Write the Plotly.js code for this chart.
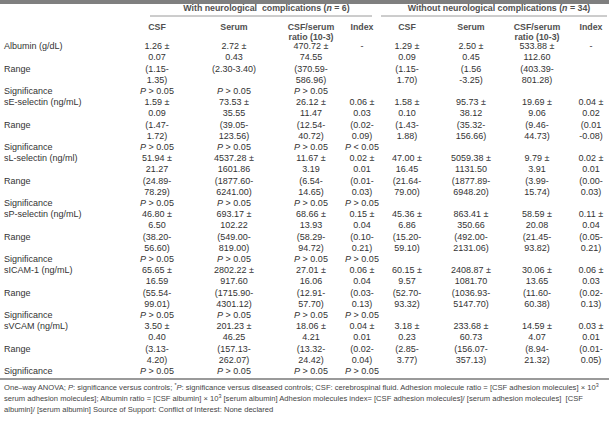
<!DOCTYPE html>
<html>
<head>
<meta charset="utf-8">
<script src="https://cdn.plot.ly/plotly-3.0.1.min.js"></script>
<style>html,body{margin:0;padding:0;background:#fff;}#chart{width:609px;height:431px;}</style>
</head>
<body>
<div id="chart"></div>
<script>
// ---------- DATA ----------
const rowLabels = ['Albumin (g/dL)', 'sE-selectin (ng/mL)', 'sL-selectin (ng/ml)', 'sP-selectin (ng/mL)', 'sICAM-1 (ng/mL)', 'sVCAM (ng/mL)'];
const subLabels = ['Range', 'Significance'];
const groupLabels = ['With neurological&nbsp; complications (<i>n</i> = 6)', 'Without neurological complications (<i>n</i> = 34)'];
const columnLabels = ['CSF', 'Serum', 'CSF/serum<br>ratio (10-3)', 'Index', 'CSF', 'Serum', 'CSF/serum<br>ratio (10-3)', 'Index'];

// With neurological complications
const withCsfMean = [1.26, 1.59, 51.94, 46.80, 65.65, 3.50];
const withCsfSd = [0.07, 0.09, 21.27, 6.50, 16.59, 0.40];
const withCsfRange = ['(1.15-\n1.35)', '(1.47-\n1.72)', '(24.89-\n78.29)', '(38.20-\n56.60)', '(55.54-\n99.01)', '(3.13-\n4.20)'];
const withCsfP = ['>', '>', '>', '>', '>', '>'];

const withSerumMean = [2.72, 73.53, 4537.28, 693.17, 2802.22, 201.23];
const withSerumSd = [0.43, 35.55, 1601.86, 102.22, 917.60, 46.25];
const withSerumRange = ['(2.30-3.40)', '(39.05-\n123.56)', '(1877.60-\n6241.00)', '(549.00-\n819.00)', '(1715.90-\n4301.12)', '(157.13-\n262.07)'];
const withSerumP = ['>', '>', '>', '>', '>', '>'];

const withRatioMean = [470.72, 26.12, 11.67, 68.66, 27.01, 18.06];
const withRatioSd = [74.55, 11.47, 3.19, 13.93, 16.06, 4.21];
const withRatioRange = ['(370.59-\n586.96)', '(12.54-\n40.72)', '(6.54-\n14.65)', '(58.29-\n94.72)', '(12.91-\n57.70)', '(13.32-\n24.42)'];
const withRatioP = ['>', '>', '>', '>', '>', '>'];

const withIndexMean = [null, 0.06, 0.02, 0.15, 0.06, 0.04];
const withIndexSd = [null, 0.03, 0.01, 0.04, 0.04, 0.01];
const withIndexRange = [null, '(0.02-\n0.09)', '(0.01-\n0.03)', '(0.10-\n0.21)', '(0.03-\n0.13)', '(0.02-\n0.04)'];
const withIndexP = [null, '<', '>', '>', '>', '>'];

// Without neurological complications
const woCsfMean = [1.29, 1.58, 47.00, 45.36, 60.15, 3.18];
const woCsfSd = [0.09, 0.10, 16.45, 6.86, 9.57, 0.23];
const woCsfRange = ['(1.15-\n1.70)', '(1.43-\n1.88)', '(21.64-\n79.00)', '(15.20-\n59.10)', '(52.70-\n93.32)', '(2.85-\n3.77)'];

const woSerumMean = [2.50, 95.73, 5059.38, 863.41, 2408.87, 233.68];
const woSerumSd = [0.45, 38.12, 1131.50, 350.66, 1081.70, 60.73];
const woSerumRange = ['(1.56\n-3.25)', '(35.32-\n156.66)', '(1877.89-\n6948.20)', '(492.00-\n2131.06)', '(1036.93-\n5147.70)', '(156.07-\n357.13)'];

const woRatioMean = [533.88, 19.69, 9.79, 58.59, 30.06, 14.59];
const woRatioSd = [112.60, 9.06, 3.91, 20.08, 13.65, 4.07];
const woRatioRange = ['(403.39-\n801.28)', '(9.46-\n44.73)', '(3.99-\n15.74)', '(21.45-\n93.82)', '(11.60-\n60.38)', '(8.94-\n21.32)'];

const woIndexMean = [null, 0.04, 0.02, 0.11, 0.06, 0.03];
const woIndexSd = [null, 0.02, 0.01, 0.04, 0.03, 0.01];
const woIndexRange = [null, '(0.01\n-0.08)', '(0.00-\n0.03)', '(0.05-\n0.21)', '(0.02-\n0.13)', '(0.01-\n0.05)'];

const footnoteLines = [
  'One–way ANOVA; <i>P</i>: significance versus controls; <sup>*</sup><i>P</i>: significance versus diseased controls; CSF: cerebrospinal fluid. Adhesion molecule ratio = [CSF adhesion molecules] × 10<sup>3</sup>',
  'serum adhesion molecules]; Albumin ratio = [CSF albumin] × 10<sup>3</sup> [serum albumin] Adhesion molecules index= [CSF adhesion molecules]/ [serum adhesion molecules]&nbsp; [CSF',
  'albumin]/ [serum albumin] Source of Support: Conflict of Interest: None declared'
];

// ---------- LAYOUT CONSTANTS ----------
const W = 609, H = 431;
const LINE = 11.2;          // px per text line
const FIRST = 47;           // px of first body line
const colX = [157, 234, 311, 362, 407, 471, 537, 591];
const labelX = 4;
const TXT = '#333333';
const HEAD = '#505050';
const FONT = 'Liberation Sans, Arial, sans-serif';

const columns = [
  {mean: withCsfMean, sd: withCsfSd, range: withCsfRange, p: withCsfP},
  {mean: withSerumMean, sd: withSerumSd, range: withSerumRange, p: withSerumP},
  {mean: withRatioMean, sd: withRatioSd, range: withRatioRange, p: withRatioP},
  {mean: withIndexMean, sd: withIndexSd, range: withIndexRange, p: withIndexP},
  {mean: woCsfMean, sd: woCsfSd, range: woCsfRange, p: null},
  {mean: woSerumMean, sd: woSerumSd, range: woSerumRange, p: null},
  {mean: woRatioMean, sd: woRatioSd, range: woRatioRange, p: null},
  {mean: woIndexMean, sd: woIndexSd, range: woIndexRange, p: null}
];

const traces = [];
// label column
{
  const xs = [], ys = [], ts = [];
  rowLabels.forEach((lab, i) => {
    const k0 = 5 * i;
    xs.push(labelX, labelX, labelX); ys.push(k0, k0 + 2, k0 + 4);
    ts.push(lab, subLabels[0], subLabels[1]);
  });
  traces.push({type: 'scatter', mode: 'text', x: xs, y: ys, text: ts, textposition: 'middle right',
    textfont: {family: FONT, size: 9, color: TXT}, hoverinfo: 'skip', showlegend: false});
}
// value columns
columns.forEach((col, c) => {
  const xs = [], ys = [], ts = [];
  col.mean.forEach((m, i) => {
    const k0 = 5 * i;
    if (m === null) {
      xs.push(colX[c]); ys.push(k0); ts.push('-');
      return;
    }
    xs.push(colX[c]); ys.push(k0); ts.push(m.toFixed(2) + ' ±');
    xs.push(colX[c]); ys.push(k0 + 1); ts.push(col.sd[i].toFixed(2));
    col.range[i].split('\n').forEach((part, j) => {
      xs.push(colX[c]); ys.push(k0 + 2 + j); ts.push(part);
    });
    if (col.p && col.p[i]) {
      xs.push(colX[c]); ys.push(k0 + 4);
      ts.push('<i>P</i> ' + (col.p[i] === '<' ? '&lt;' : '&gt;') + ' 0.05');
    }
  });
  traces.push({type: 'scatter', mode: 'text', x: xs, y: ys, text: ts, textposition: 'middle center',
    textfont: {family: FONT, size: 9, color: TXT}, hoverinfo: 'skip', showlegend: false});
});
// column headers
{
  const xs = [], ys = [], ts = [];
  columnLabels.forEach((lab, c) => {
    lab.split('<br>').forEach((part, j) => {
      xs.push(colX[c]); ys.push((28 - FIRST) / LINE + j * 9.5 / LINE); ts.push('<b>' + part + '</b>');
    });
  });
  traces.push({type: 'scatter', mode: 'text', x: xs, y: ys, text: ts, textposition: 'middle center',
    textfont: {family: FONT, size: 8.8, color: HEAD}, hoverinfo: 'skip', showlegend: false});
}
// group headers
{
  const gx = [(colX[0] + colX[3]) / 2 + 7, (colX[4] + colX[7]) / 2];
  traces.push({type: 'scatter', mode: 'text', x: gx, y: [(9 - FIRST) / LINE, (9 - FIRST) / LINE],
    text: groupLabels.map(g => '<b>' + g + '</b>'), textposition: 'middle center',
    textfont: {family: FONT, size: 8.8, color: HEAD}, hoverinfo: 'skip', showlegend: false});
}
// footnote
{
  const ys = footnoteLines.map((_, j) => (388 - FIRST) / LINE + j * 11 / LINE);
  traces.push({type: 'scatter', mode: 'text', x: footnoteLines.map(() => labelX), y: ys, text: footnoteLines,
    textposition: 'middle right', textfont: {family: FONT, size: 7.6, color: '#444444'},
    hoverinfo: 'skip', showlegend: false});
}

const kTop = -FIRST / LINE, kBot = kTop + H / LINE;
const pxY = p => kTop + p / LINE;

const layout = {
  width: W, height: H,
  margin: {l: 0, r: 0, t: 0, b: 0, pad: 0},
  paper_bgcolor: '#ffffff', plot_bgcolor: '#ffffff',
  xaxis: {range: [0, W], visible: false, fixedrange: true},
  yaxis: {range: [kBot, kTop], visible: false, fixedrange: true},
  showlegend: false,
  shapes: [
    {type: 'rect', xref: 'x', yref: 'y', x0: 0, x1: W, y0: pxY(0), y1: pxY(4), fillcolor: '#7f7f7f', line: {width: 0}},
    {type: 'line', xref: 'x', yref: 'y', x0: 150, x1: 372, y0: pxY(16), y1: pxY(16), line: {color: '#9a9a9a', width: 1}},
    {type: 'line', xref: 'x', yref: 'y', x0: 381, x1: 607, y0: pxY(16), y1: pxY(16), line: {color: '#9a9a9a', width: 1}},
    {type: 'line', xref: 'x', yref: 'y', x0: 0, x1: W, y0: pxY(379), y1: pxY(379), line: {color: '#9a9a9a', width: 2}}
  ]
};

Plotly.newPlot('chart', traces, layout, {displayModeBar: false, staticPlot: true});
</script>
</body>
</html>
